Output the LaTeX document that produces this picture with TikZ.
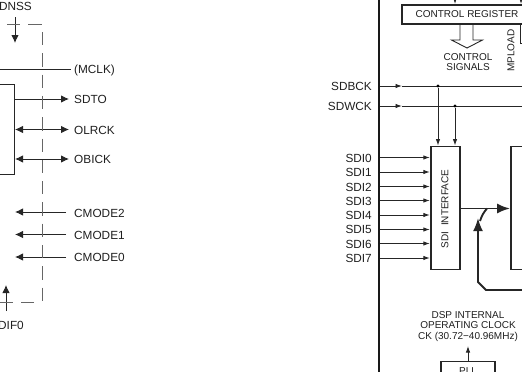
\documentclass[tikz,border=0pt]{standalone}
\usepackage{fontspec}
\setmainfont{Liberation Sans}
\usetikzlibrary{arrows.meta, positioning}
\colorlet{Cline}{black!85}
\colorlet{Cdash}{black!60}
\colorlet{Ctext}{black!88}
\tikzset{
  pinlabel/.style={font=\fontsize{11.8}{13}\selectfont, text=Ctext, inner sep=0pt},
  smalllabel/.style={font=\fontsize{10}{10.7}\selectfont, text=Ctext, inner sep=0pt, align=center},
  blockbox/.style={draw=Cline, line width=1.9pt, fill=white, inner sep=0pt},
  thinbox/.style={draw=Cline, line width=1pt, inner sep=0pt},
  sig/.style={draw=Cline, line width=0.9pt},
  arr/.style={sig, -{Latex[length=8pt, width=7.5pt]}},
  twoarr/.style={sig, {Latex[length=8pt, width=7.5pt]}-{Latex[length=8pt, width=7.5pt]}},
  tinyarr/.style={sig, -{Latex[length=6.5pt, width=4.5pt]}},
  bigarr/.style={draw=Cline, line width=1.9pt, -{Latex[length=13pt, width=10pt]}},
  dashline/.style={draw=Cdash, line width=1pt, dash pattern=on 13.3pt off 8pt},
  jointdot/.style={circle, fill=black, inner sep=0pt, minimum size=3.2pt},
}

\begin{document}
\begin{tikzpicture}[x=1pt, y=-1pt]
\useasboundingbox (0,0) rectangle (522,372);

%%==========================================================================
%% LEFT PART
%%==========================================================================

\node[thinbox, minimum width=60pt, minimum height=90pt] (leftbox) at (-15.5,129) {};

\node[pinlabel, anchor=east] (dnss) at (32,6) {DNSS};
\coordinate (dnssin) at (15,17);
\coordinate (dnssout) at (15,43);
\node[pinlabel, anchor=east] (dif) at (24,325) {DIF0};
\coordinate (difin) at (6,311);
\coordinate (difout) at (6,285);

\node[pinlabel, anchor=west] (mclk) at (74,70) {(MCLK)};
\node[pinlabel, anchor=west] (sdto) at (74,99) {SDTO};
\node[pinlabel, anchor=west] (olrck) at (74,130) {OLRCK};
\node[pinlabel, anchor=west] (obick) at (74,159.5) {OBICK};
\node[pinlabel, anchor=west] (cmodeb) at (74,213) {CMODE2};
\node[pinlabel, anchor=west] (cmodea) at (74,235.5) {CMODE1};
\node[pinlabel, anchor=west] (cmodez) at (74,257.5) {CMODE0};

\coordinate (mclkin) at (0,69);
\coordinate (mclkend) at (71,69);
\coordinate (sdtoend) at (69,99);
\coordinate (olrckend) at (69,129.5);
\coordinate (obickend) at (69,159);
\coordinate (cmodebin) at (66,212);
\coordinate (cmodeain) at (66,234.5);
\coordinate (cmodezin) at (66,257);

\draw[sig] (mclkin) -- (mclkend);
\draw[arr] (leftbox.east |- sdtoend) -- (sdtoend);
\draw[twoarr] (leftbox.east |- olrckend) -- (olrckend);
\draw[twoarr] (leftbox.east |- obickend) -- (obickend);
\draw[arr] (cmodebin) -- (leftbox.east |- cmodebin);
\draw[arr] (cmodeain) -- (leftbox.east |- cmodeain);
\draw[arr] (cmodezin) -- (leftbox.east |- cmodezin);
\draw[arr] (dnssin) -- (dnssout);
\draw[arr] (difin) -- (difout);

%% dashed outline
\draw[dashline] (7,24) -- (42,24);
\draw[dashline] (42,32) -- (42,301.5);
\draw[dashline] (34,302) -- (0,302);

%%==========================================================================
%% RIGHT PART
%%==========================================================================

\coordinate (walltop) at (379,0);
\coordinate (wallbot) at (379,372);
\draw[draw=black!90, line width=2.8pt] (walltop) -- (wallbot);

\node[blockbox, minimum width=122pt, minimum height=19pt] (ctrlreg) at (463,14.5) {};
\node[smalllabel] (ctrltext) at (467,14.5) {CONTROL REGISTER};
\coordinate (ctrlina) at (455,0);
\coordinate (ctrlinb) at (521,0);
\draw[tinyarr] (ctrlina) -- (ctrlreg.north -| ctrlina);
\draw[tinyarr] (ctrlinb) -- (ctrlreg.north -| ctrlinb);

%% hollow arrow
\draw[sig] (460,25) -- (460,40) -- (451.5,40) -- (467,48) -- (482.5,40)
  -- (473,40) -- (473,25);
\node[smalllabel] (ctrlsig) at (468,62) {CONTROL\\SIGNALS};
\node[smalllabel, rotate=90] (mpload) at (511,50.5) {MPLOAD};
\draw[sig] (520,25) -- (520,43) -- (522,43);

\node[pinlabel, anchor=east] (sdbck) at (372,86.5) {SDBCK};
\node[pinlabel, anchor=east] (sdwck) at (372,106) {SDWCK};

\node[blockbox, minimum width=29.5pt, minimum height=123pt] (sdibox) at (445.5,208) {};
\node[smalllabel, rotate=90] (sditext) at (445,209) {SDI\ \ INTERFACE};
\node[blockbox, minimum width=40pt, minimum height=123pt] (rightbox) at (531,208) {};

\coordinate (sdbckin) at (380,86);
\coordinate (sdbckmid) at (402,86);
\coordinate (sdbckend) at (522,86);
\coordinate (sdwckin) at (380,106);
\coordinate (sdwckmid) at (402,106);
\coordinate (sdwckend) at (522,106);
\draw[tinyarr] (sdbckin) -- (sdbckmid);
\draw[sig] (sdbckmid) -- (sdbckend);
\draw[tinyarr] (sdwckin) -- (sdwckmid);
\draw[sig] (sdwckmid) -- (sdwckend);

\node[jointdot] (bckdot) at (438,86) {};
\node[jointdot] (wckdot) at (455,106) {};
\draw[tinyarr] (bckdot) -- (sdibox.north -| bckdot);
\draw[tinyarr] (wckdot) -- (sdibox.north -| wckdot);

%% serial data inputs
\node[pinlabel, anchor=east] (sdia) at (372,158) {SDI0};
\node[pinlabel, anchor=east] (sdib) at (372,172) {SDI1};
\node[pinlabel, anchor=east] (sdic) at (372,187) {SDI2};
\node[pinlabel, anchor=east] (sdid) at (372,201) {SDI3};
\node[pinlabel, anchor=east] (sdie) at (372,215) {SDI4};
\node[pinlabel, anchor=east] (sdif) at (372,229.5) {SDI5};
\node[pinlabel, anchor=east] (sdig) at (372,244) {SDI6};
\node[pinlabel, anchor=east] (sdih) at (372,258.5) {SDI7};

\draw[tinyarr] (380,157.5) -- (sdibox.west |- 380,157.5);
\draw[tinyarr] (380,172) -- (sdibox.west |- 380,172);
\draw[tinyarr] (380,186.5) -- (sdibox.west |- 380,186.5);
\draw[tinyarr] (380,200.5) -- (sdibox.west |- 380,200.5);
\draw[tinyarr] (380,215) -- (sdibox.west |- 380,215);
\draw[tinyarr] (380,229.5) -- (sdibox.west |- 380,229.5);
\draw[tinyarr] (380,243.5) -- (sdibox.west |- 380,243.5);
\draw[tinyarr] (380,258) -- (sdibox.west |- 380,258);

%% data path and feedback
\coordinate (datain) at (460,208.5);
\draw[bigarr] (datain) -- (rightbox.west |- datain);
\draw[bigarr] (522,290) -- (486,290) -- (478,282) -- (478,218);
\draw[draw=Cline, line width=1.9pt] (480,221) .. controls (482,215) and (484,212) .. (487,208.5);

%%==========================================================================
%% CLOCK
%%==========================================================================

\node[smalllabel] (dspclk) at (468,326.5)
  {DSP INTERNAL\\OPERATING CLOCK\\CK (30.72−40.96MHz)};
\node[blockbox, minimum width=54pt, minimum height=30pt, anchor=north] (pll) at (468,360.5) {};
\node[smalllabel] (plltext) at (468,371.5) {PLL};
\coordinate (clkout) at (468,346);
\draw[tinyarr] (pll.north) -- (clkout);

\end{tikzpicture}
\end{document}
